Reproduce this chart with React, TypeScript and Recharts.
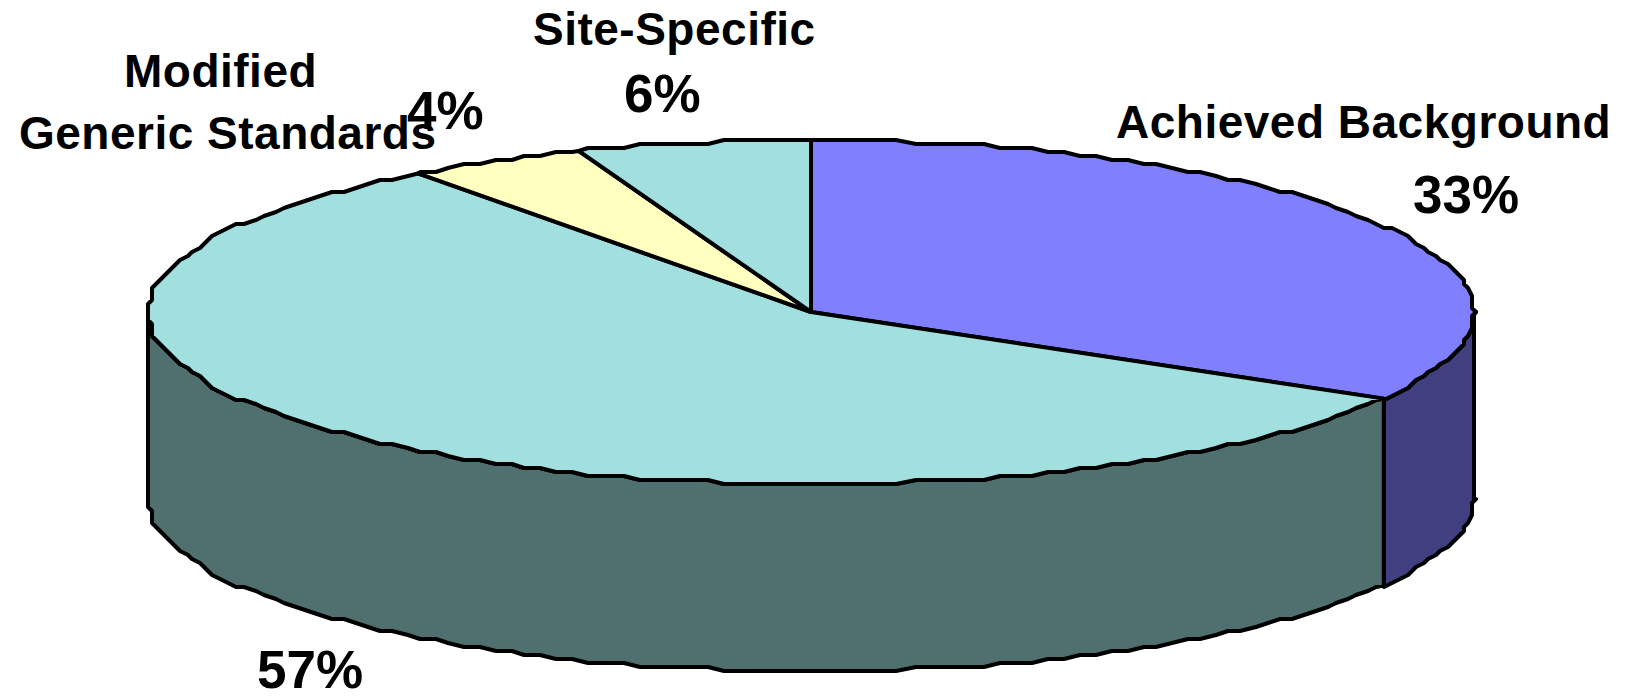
import { PieChart, Pie, Cell } from 'recharts'

const sliceNames = ['Achieved Background', 'Generic Cleanup', 'Modified Generic Standards', 'Site-Specific']
// unrounded shares, they round to the printed labels
const sliceShares = [33.4, 56.5, 4.4, 5.7]
const percentLabels = ['33%', '57%', '4%', '6%']
const topColors = ['#8080ff', '#a2e0e0', '#ffffc0', '#a2e0e0']
const wallColors = ['#403f80', '#50706f', '#80805f', '#50706f']

const CX = 811
const CY = 312
const RX = 663
const RY = 172
const DEPTH = 187
const SQUASH = RY / RX
const STROKE = 4
const SNAP = 4 // the original outline is a coarse, stepped polyline
const ARC_STEP = 1.5
const FONT = '"Liberation Sans", Arial, sans-serif'

const snap = (v: number) => Math.round(v / SNAP) * SNAP

// points along the rim between two angles (degrees, counter-clockwise from 3 o'clock)
const rim = (cx: number, cy: number, r: number, from: number, to: number) => {
  const at = (deg: number) => {
    const a = (deg * Math.PI) / 180
    return [cx + r * Math.cos(a), cy - r * SQUASH * Math.sin(a)]
  }
  const grid: number[] = []
  const first = Math.ceil(Math.min(from, to) / ARC_STEP) * ARC_STEP
  for (let d = first; d <= Math.max(from, to); d += ARC_STEP) grid.push(d)
  if (from > to) grid.reverse()
  const mid = grid.map((d) => {
    const [x, y] = at(d)
    return [snap(x), snap(y)]
  })
  return [at(from), ...mid, at(to)]
}

const toPath = (pts: number[][]) => pts.map(([x, y]) => `${x},${y}`).join(' L')

const TopSlice = (props: any) => {
  const { cx, cy, outerRadius: r, startAngle, endAngle, fill } = props
  const d = `M${cx},${cy} L${toPath(rim(cx, cy, r, startAngle, endAngle))} Z`
  return <path d={d} fill={fill} stroke="#000000" strokeWidth={STROKE} strokeLinejoin="round" />
}

// the side wall only exists on the front half of the ellipse (angles 0 to -180)
const WallSlice = (props: any) => {
  const { cx, cy, outerRadius: r, startAngle, endAngle, fill } = props
  const from = Math.min(startAngle, 0)
  const to = Math.max(endAngle, -180)
  if (from <= to) return <g />
  const upper = rim(cx, cy, r, from, to)
  const lower = upper.map(([x, y]) => [x, y + DEPTH]).reverse()
  const d = `M${toPath(upper)} L${toPath(lower)} Z`
  return <path d={d} fill={fill} stroke="#000000" strokeWidth={STROKE} strokeLinejoin="round" />
}

const data = sliceNames.map((name, i) => ({ name, value: sliceShares[i] }))

const nameStyle = { fontFamily: FONT, fontWeight: 700, fill: '#000000', fontSize: 46, letterSpacing: 0.5 }
const pctStyle = { fontFamily: FONT, fontWeight: 700, fill: '#000000', fontSize: 53 }

export default function App() {
  return (
    <div style={{ position: 'absolute', left: 0, top: 0, width: 1631, height: 697, background: '#ffffff' }}>
      <PieChart width={1631} height={697} margin={{ top: 0, right: 0, bottom: 0, left: 0 }}>
        <Pie data={data} dataKey="value" cx={CX} cy={CY} outerRadius={RX} startAngle={90} endAngle={-270}
          stroke="none" isAnimationActive={false} shape={WallSlice}>
          {data.map((d, i) => <Cell key={d.name} fill={wallColors[i]} />)}
        </Pie>
        <Pie data={data} dataKey="value" cx={CX} cy={CY} outerRadius={RX} startAngle={90} endAngle={-270}
          stroke="none" isAnimationActive={false} shape={TopSlice}>
          {data.map((d, i) => <Cell key={d.name} fill={topColors[i]} />)}
        </Pie>
        <text x={533} y={45} {...nameStyle}>{sliceNames[3]}</text>
        <text x={624} y={112} {...pctStyle}>{percentLabels[3]}</text>
        <text x={124} y={87} {...nameStyle}>Modified</text>
        <text x={19} y={149} {...nameStyle}>Generic Standards</text>
        <text x={407} y={129} {...pctStyle}>{percentLabels[2]}</text>
        <text x={1116} y={138} {...nameStyle}>{sliceNames[0]}</text>
        <text x={1413} y={213} {...pctStyle}>{percentLabels[0]}</text>
        <text x={308} y={371} {...nameStyle}>{sliceNames[1]}</text>
        <text x={257} y={688} {...pctStyle}>{percentLabels[1]}</text>
      </PieChart>
    </div>
  )
}
